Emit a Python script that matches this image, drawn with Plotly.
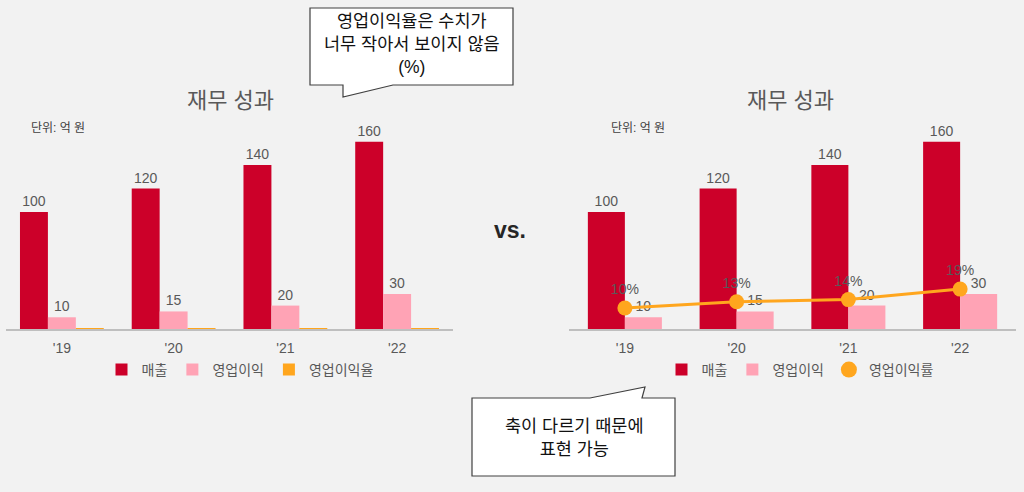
import plotly.graph_objects as go

# data
years = ["'19", "'20", "'21", "'22"]
sales = [100, 120, 140, 160]
op_profit = [10, 15, 20, 30]
op_margin = [0.10, 0.13, 0.14, 0.19]

W, H = 1024, 492
RED = "#CC0029"
PINK = "#FFA3B5"
ORANGE = "#FFA61E"
GRAY = "#595959"
FONT = "Liberation Sans, Noto Sans CJK KR, Arial, sans-serif"


def px(x):
    return x / W


def py(y):
    return 1 - y / H


fig = go.Figure()

# left chart: margin drawn as a bar on the same axis -> nearly invisible
fig.add_trace(go.Bar(x=years, y=sales, name="매출", marker_color=RED, text=sales,
                     textposition="outside", xaxis="x", yaxis="y", legend="legend"))
fig.add_trace(go.Bar(x=years, y=op_profit, name="영업이익", marker_color=PINK, text=op_profit,
                     textposition="outside", xaxis="x", yaxis="y", legend="legend"))
fig.add_trace(go.Bar(x=years, y=op_margin, name="영업이익율", marker_color=ORANGE,
                     xaxis="x", yaxis="y", legend="legend"))

# right chart: margin on its own axis
fig.add_trace(go.Bar(x=years, y=sales, name="매출", marker_color=RED, text=sales,
                     textposition="outside", xaxis="x2", yaxis="y2", legend="legend2"))
fig.add_trace(go.Bar(x=years, y=op_profit, name="영업이익", marker_color=PINK, text=op_profit,
                     textposition="outside", xaxis="x2", yaxis="y2", legend="legend2"))
fig.add_trace(go.Scatter(x=years, y=op_margin, name="영업이익률", mode="lines+markers+text",
                         line=dict(color=ORANGE, width=3), marker=dict(color=ORANGE, size=15),
                         text=[f"{v:.0%}" for v in op_margin], textposition="top center",
                         textfont=dict(color=GRAY, size=14), cliponaxis=False,
                         xaxis="x2", yaxis="y3", showlegend=False))
fig.add_trace(go.Scatter(x=[None], y=[None], name="영업이익률", mode="markers",
                         marker=dict(color=ORANGE, size=16), xaxis="x2", yaxis="y3",
                         legend="legend2"))

fig.update_traces(selector=dict(type="bar"), textfont=dict(color=GRAY, size=14),
                  cliponaxis=False, marker_line_width=0)

base, top = 329, 130
ydom = [py(base), py(top)]
axis_common = dict(showgrid=False, zeroline=False, showline=True, linecolor="#BFBFBF",
                   linewidth=1.5, ticks="", tickfont=dict(color=GRAY, size=14), ticklabelstandoff=5)
leg_common = dict(orientation="h", xanchor="center", y=py(370), yanchor="middle",
                  bgcolor="rgba(0,0,0,0)", font=dict(size=14, color=GRAY), itemwidth=30,
                  traceorder="normal")

fig.update_layout(
    width=W, height=H,
    margin=dict(l=0, r=0, t=0, b=0),
    paper_bgcolor="#F2F2F2", plot_bgcolor="#F2F2F2",
    font=dict(family=FONT, color=GRAY),
    barmode="group",
    bargap=0.25,
    xaxis=dict(domain=[px(6), px(453)], anchor="y", **axis_common),
    yaxis=dict(domain=ydom, range=[0, 170], visible=False, anchor="x"),
    xaxis2=dict(domain=[px(569), px(1016)], anchor="y2", **axis_common),
    yaxis2=dict(domain=ydom, range=[0, 170], visible=False, anchor="x2"),
    yaxis3=dict(overlaying="y2", range=[0, (base - top) / 210], visible=False, anchor="x2"),
    legend=dict(x=px(240), **leg_common),
    legend2=dict(x=px(800), **leg_common),
    showlegend=True,
)

# right chart has only two bars per group, wider
w_right = 37 / 111.7
fig.data[3].update(width=w_right, offset=-w_right)
fig.data[4].update(width=w_right, offset=0)

annotations = [
    dict(x=px(230), y=py(100), text="재무 성과", font=dict(size=22, color=GRAY)),
    dict(x=px(790), y=py(100), text="재무 성과", font=dict(size=22, color=GRAY)),
    dict(x=px(29), y=py(128), text="단위: 억 원", xanchor="left", font=dict(size=12, color="#404040")),
    dict(x=px(609), y=py(128), text="단위: 억 원", xanchor="left", font=dict(size=12, color="#404040")),
    dict(x=px(510), y=py(230), text="<b>vs.</b>", font=dict(size=23, color="#262626")),
    dict(x=px(412), y=py(44), text="영업이익율은 수치가<br>너무 작아서 보이지 않음<br>(%)",
         font=dict(size=17.5, color="#111111"), align="center"),
    dict(x=px(574), y=py(437), text="축이 다르기 때문에<br>표현 가능",
         font=dict(size=17.5, color="#111111"), align="center"),
]
for a in annotations:
    a.setdefault("xanchor", "center")
    fig.add_annotation(xref="paper", yref="paper", yanchor="middle", showarrow=False, **a)


def callout(points):
    path = "M " + " L ".join(f"{px(x)},{py(y)}" for x, y in points) + " Z"
    fig.add_shape(type="path", xref="paper", yref="paper", path=path,
                  fillcolor="white", line=dict(color="#404040", width=1.2), layer="below")


callout([(310, 8), (513, 8), (513, 85), (393, 85), (343, 97), (343, 85), (310, 85)])
callout([(472, 398), (590, 398), (645, 387), (642, 398), (675, 398), (675, 476), (472, 476)])

fig.write_html("out.html", config={"displayModeBar": False},
               post_script="document.body.style.margin='0';document.body.style.overflow='hidden';")
